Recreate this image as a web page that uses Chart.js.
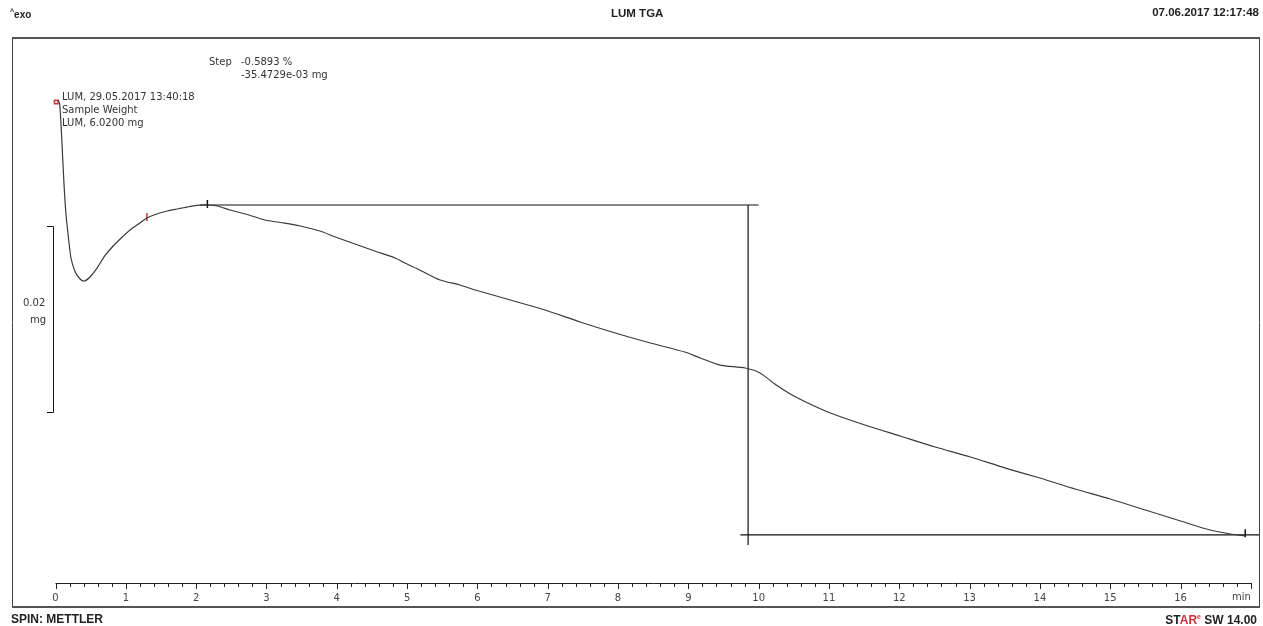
<!DOCTYPE html>
<html>
<head>
<meta charset="utf-8">
<title>LUM TGA</title>
<script src="https://cdn.jsdelivr.net/npm/chart.js@4.4.1/dist/chart.umd.min.js"></script>
<style>
  html, body { margin: 0; padding: 0; background: #fff; }
  #wrap { position: relative; width: 1263px; height: 626px; overflow: hidden; font-family: "DejaVu Sans", sans-serif; color: #333; }
  #wrap canvas { position: absolute; left: 0; top: 0; }
  .t { position: absolute; white-space: nowrap; line-height: 1; }
  .hd { font-family: "Liberation Sans", Arial, sans-serif; font-weight: bold; color: #222; }
  .an { font-size: 10px; color: #333; }
  .red { color: #d0303a; }
</style>
</head>
<body>
<div id="wrap">
  <canvas id="tga" width="1263" height="626"></canvas>

  <div class="t hd" style="left:10px;top:8px;font-size:10px;"><sup style="font-size:7px;">^</sup>exo</div>
  <div class="t hd" style="left:611px;top:8px;font-size:11.5px;">LUM TGA</div>
  <div class="t hd" style="right:4px;top:7px;font-size:11.5px;">07.06.2017 12:17:48</div>
  <div class="t hd" style="left:11px;top:613px;font-size:12px;">SPIN: METTLER</div>
  <div class="t hd" style="right:6px;top:613px;font-size:12px;">ST<span class="red">AR</span><sup class="red" style="font-size:7px;">e</sup> SW 14.00</div>

  <div class="t an" style="left:209px;top:57px;">Step</div>
  <div class="t an" style="left:241px;top:57px;">-0.5893 %</div>
  <div class="t an" style="left:241px;top:70px;">-35.4729e-03 mg</div>
  <div class="t an" style="left:62px;top:92px;">LUM, 29.05.2017 13:40:18</div>
  <div class="t an" style="left:62px;top:105px;">Sample Weight</div>
  <div class="t an" style="left:62px;top:118px;">LUM, 6.0200 mg</div>

  <div class="t an" style="left:23px;top:298px;">0.02</div>
  <div class="t an" style="left:30px;top:315px;">mg</div>
</div>

<script>
// TGA curve, time in min, sample weight in mg
const timeMin = [0.04, 0.06, 0.09, 0.12, 0.15, 0.18, 0.22, 0.28, 0.35, 0.41,
  0.49, 0.59, 0.70, 0.82, 0.95, 1.06, 1.20, 1.30, 1.44, 1.59,
  1.73, 1.87, 2.01, 2.16, 2.30, 2.48, 2.70, 2.98, 3.26, 3.48,
  3.76, 3.98, 4.26, 4.54, 4.83, 4.97, 5.18, 5.47, 5.75, 5.97,
  6.47, 6.96, 7.46, 7.96, 8.46, 8.95, 9.17, 9.45, 9.81, 10.02,
  10.23, 10.45, 10.73, 11.02, 11.51, 12.01, 12.51, 13.01, 13.51, 14.00,
  14.50, 15.00, 15.50, 16.00, 16.42, 16.71, 16.92];
const weightMg = [6.02000, 6.01957, 6.01570, 6.01108, 6.00763, 6.00548, 6.00301, 6.00150, 6.00075, 6.00054,
  6.00097, 6.00193, 6.00323, 6.00430, 6.00527, 6.00602, 6.00677, 6.00731, 6.00774, 6.00806,
  6.00828, 6.00849, 6.00866, 6.00871, 6.00860, 6.00817, 6.00774, 6.00710, 6.00677, 6.00645,
  6.00591, 6.00527, 6.00452, 6.00376, 6.00301, 6.00247, 6.00172, 6.00064, 6.00011, 5.99957,
  5.99849, 5.99742, 5.99613, 5.99495, 5.99387, 5.99290, 5.99226, 5.99150, 5.99118, 5.99064,
  5.98946, 5.98839, 5.98731, 5.98634, 5.98505, 5.98387, 5.98269, 5.98161, 5.98042, 5.97935,
  5.97817, 5.97710, 5.97591, 5.97473, 5.97376, 5.97333, 5.97312];

// step evaluation
const stepLeft = [2.06, 10.00];
const stepRight = [9.74, 17.13];
const stepUpperMg = 6.00871;
const stepLowerMg = 5.97324;
const stepVertical = [9.85, 6.00871, 5.97215];

// limit markers
const markerTime = [0.01, 1.30, 2.16, 16.92];
const markerMg = [6.01978, 6.00742, 6.00882, 5.97340];
const markerColor = ['#d0303a', '#d0303a', '#111', '#111'];

// x ticks, scale bar
const xTickMin = 0;
const xTickMax = 17;
const xMinorStep = 0.2;
const scaleBarTopMg = 6.00645;
const scaleBarSpanMg = 0.02;

const pts = (xs, ys) => xs.map((x, i) => ({ x: x, y: ys[i] }));

const framePlugin = {
  id: 'frame',
  afterDraw(chart) {
    const ctx = chart.ctx;
    const xs = chart.scales.x, ys = chart.scales.y;
    const base = chart.chartArea.bottom;
    ctx.save();
    // outer frame
    ctx.strokeStyle = '#444';
    ctx.lineWidth = 1;
    ctx.beginPath();
    ctx.moveTo(12.5, 38); ctx.lineTo(12.5, 607);
    ctx.moveTo(1259.5, 38); ctx.lineTo(1259.5, 607);
    ctx.stroke();
    ctx.lineWidth = 2;
    ctx.strokeStyle = '#555';
    ctx.beginPath();
    ctx.moveTo(12, 38); ctx.lineTo(1260, 38);
    ctx.moveTo(12, 607); ctx.lineTo(1260, 607);
    ctx.stroke();
    // time axis with minor ticks
    ctx.strokeStyle = '#222';
    ctx.lineWidth = 1;
    ctx.beginPath();
    ctx.moveTo(xs.getPixelForValue(xTickMin), base + 0.5);
    ctx.lineTo(xs.getPixelForValue(xTickMax) + 1, base + 0.5);
    const n = Math.round((xTickMax - xTickMin) / xMinorStep);
    for (let i = 0; i <= n; i++) {
      const px = Math.round(xs.getPixelForValue(xTickMin + i * xMinorStep)) + 0.5;
      ctx.moveTo(px, base);
      ctx.lineTo(px, base + (i % 5 === 0 ? 6 : 4));
    }
    ctx.stroke();
    ctx.fillStyle = '#444';
    ctx.font = '10px "DejaVu Sans"';
    ctx.textAlign = 'right';
    ctx.textBaseline = 'middle';
    ctx.fillText('min', xs.getPixelForValue(xTickMax), base + 14);
    // 0.02 mg scale bar
    const y0 = Math.round(ys.getPixelForValue(scaleBarTopMg)) + 0.5;
    const y1 = Math.round(ys.getPixelForValue(scaleBarTopMg - scaleBarSpanMg)) + 0.5;
    ctx.strokeStyle = '#111';
    ctx.beginPath();
    ctx.moveTo(47, y0); ctx.lineTo(53.5, y0); ctx.lineTo(53.5, y1); ctx.lineTo(47, y1);
    ctx.stroke();
    ctx.restore();
  }
};

new Chart(document.getElementById('tga'), {
  type: 'line',
  data: {
    datasets: [
      {
        data: pts(timeMin, weightMg),
        borderColor: '#3a3a3a',
        borderWidth: 1.2,
        pointRadius: 0,
        tension: 0.25
      },
      {
        data: pts(stepLeft, [stepUpperMg, stepUpperMg]),
        borderColor: '#111', borderWidth: 1.2, pointRadius: 0
      },
      {
        data: pts(stepRight, [stepLowerMg, stepLowerMg]),
        borderColor: '#111', borderWidth: 1.2, pointRadius: 0
      },
      {
        data: pts([stepVertical[0], stepVertical[0]], [stepVertical[1], stepVertical[2]]),
        borderColor: '#111', borderWidth: 1.2, pointRadius: 0
      },
      {
        data: pts(markerTime, markerMg),
        showLine: false,
        pointStyle: ['rect', 'line', 'line', 'line'],
        rotation: [0, 90, 90, 90],
        pointRadius: [2.5, 4, 4, 4],
        borderColor: markerColor,
        backgroundColor: '#fff',
        borderWidth: 1.5
      }
    ]
  },
  options: {
    responsive: false,
    animation: false,
    clip: false,
    layout: { autoPadding: false, padding: { left: 55.5, right: 3, top: 38, bottom: 18 } },
    plugins: { legend: { display: false }, tooltip: { enabled: false } },
    scales: {
      x: {
        type: 'linear',
        min: 0,
        max: 17.13,
        grid: { display: false, drawTicks: false },
        border: { display: false },
        afterFit: (s) => { s.height = 25; s.paddingLeft = 0; s.paddingRight = 0; },
        ticks: {
          stepSize: 1,
          padding: 9,
          color: '#444',
          font: { family: 'DejaVu Sans', size: 10 },
          maxRotation: 0,
          autoSkip: false,
          callback: (v) => (Number.isInteger(v) && v <= 16 ? String(v) : '')
        }
      },
      y: {
        type: 'linear',
        display: false,
        min: 5.968063,
        max: 6.026667
      }
    }
  },
  plugins: [framePlugin]
});
</script>
</body>
</html>
